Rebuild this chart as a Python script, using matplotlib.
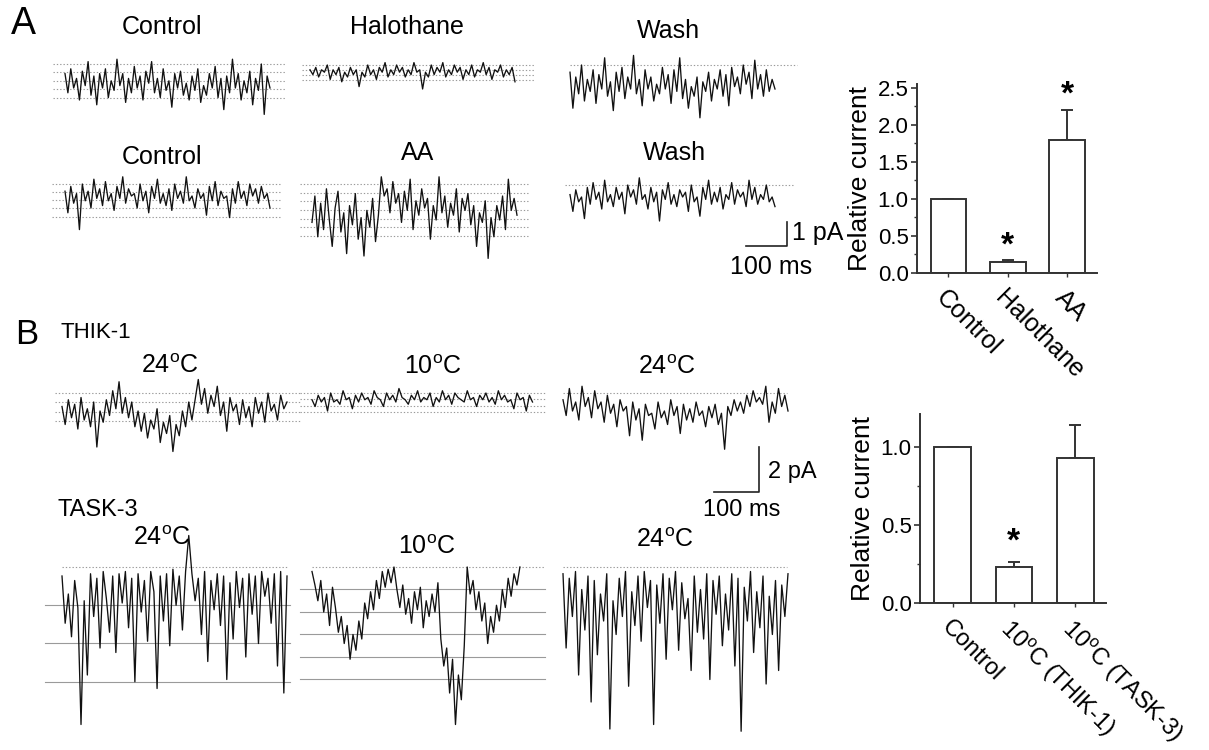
import matplotlib

matplotlib.use("Agg")
import matplotlib.pyplot as plt
import numpy as np
from matplotlib.ticker import MultipleLocator

plt.rcParams["font.family"] = ["Liberation Sans", "DejaVu Sans"]
plt.rcParams["mathtext.fontset"] = "custom"
plt.rcParams["mathtext.rm"] = "Liberation Sans"

W, H = 1209, 750
TRACE_C, LEVEL_C, EDGE = "#111111", "#9a9a9a", "#333333"
DEG = r"$^{\mathrm{o}}$"

# ---- bar data (relative current, mean and upper SEM) ----
a_labels = ["Control", "Halothane", "AA"]
a_vals = [1.0, 0.15, 1.80]
a_err = [0.0, 0.02, 0.40]
a_sig = [False, True, True]

b_labels = ["Control", f"10{DEG}C (THIK-1)", f"10{DEG}C (TASK-3)"]
b_vals = [1.0, 0.23, 0.93]
b_err = [0.0, 0.03, 0.21]
b_sig = [False, True, False]

# ---- single-channel traces, pA relative to closed level (coarse readout) ----
a_ctrl1 = [-0.4, -1.2, -0.2, -1.0, -0.6, -1.5, -0.3, -0.9, 0.1, -1.3, -0.5, -1.7, -0.4, -1.0, -0.2, -1.4,
           -0.7, -1.1, 0.2, -0.9, -0.4, -1.6, -0.6, -1.2, -0.1, -1.0, -0.5, -1.5, -0.3, -0.8, 0.1, -1.2,
           -0.6, -1.4, -0.2, -1.1, -0.7, -1.8, -0.4, -1.0, -0.3, -1.3, -0.8, -1.5, -0.5, -1.1, -0.2, -1.6,
           -0.9, -1.3, -0.4, -1.0, -0.1, -1.4, -0.6, -1.9, -0.5, -1.2, 0.2, -1.0, -0.4, -1.5, -0.7, -1.2,
           -0.3, -1.7, -0.6, -1.1, 0.0, -2.1, -0.5, -1.0]
a_halo = [-0.2, -0.4, -0.1, -0.5, -0.2, -0.3, 0.0, -0.6, -0.2, -0.4, -0.1, -0.7, -0.3, -0.5, -0.1, -0.4,
          -0.2, -0.9, -0.3, -0.5, 0.0, -0.4, -0.2, -0.6, -0.1, -0.3, 0.1, -0.5, -0.2, -0.4, 0.0, -0.3,
          -0.1, -0.5, -0.2, -0.4, 0.1, -0.3, -0.2, -1.0, -0.3, -0.5, 0.0, -0.4, -0.1, -0.3, 0.1, -0.5,
          -0.2, -0.4, 0.0, -0.3, -0.1, -0.6, -0.2, -0.4, 0.0, -0.5, -0.2, -0.3, 0.1, -0.4, -0.1, -0.6,
          -0.2, -0.3, 0.0, -0.5, -0.2, -0.4, -0.1, -0.7]
a_wash1 = [-0.3, -1.8, -0.5, -1.2, 0.0, -1.5, -0.6, -1.1, -0.2, -1.6, -0.4, -1.0, 0.3, -1.3, -0.7, -1.9,
           -0.3, -1.1, -0.1, -1.4, -0.5, -1.0, 0.4, -1.2, -0.6, -1.7, -0.2, -1.0, -0.5, -1.5, -0.8, -1.2,
           -0.1, -1.0, -0.4, -1.6, -0.2, -1.1, 0.3, -1.4, -0.6, -1.8, -0.9, -1.3, -0.5, -2.2, -0.7, -1.1,
           -0.3, -1.5, -0.6, -1.0, -0.2, -1.3, -0.4, -1.7, -0.1, -0.9, -0.5, -1.2, 0.0, -0.8, -0.3, -1.4,
           0.2, -1.0, -0.4, -1.3, -0.2, -1.1, -0.6, -1.0]
a_ctrl2 = [-0.3, -1.2, -0.1, -0.8, -0.4, -1.9, 0.0, -0.7, -0.3, -1.0, 0.2, -0.6, -0.2, -0.9, 0.1, -0.7,
           -0.4, -1.1, -0.1, -0.6, 0.3, -0.8, -0.2, -0.5, -0.4, -1.0, 0.0, -0.7, -0.3, -1.2, -0.1, -0.6,
           0.2, -0.8, -0.4, -0.9, -0.2, -1.1, 0.0, -0.6, -0.3, -0.8, 0.3, -0.7, -0.5, -1.0, -0.2, -0.6,
           -0.4, -1.3, -0.1, -0.7, 0.1, -0.9, -0.3, -0.6, -0.5, -1.4, -0.2, -0.8, 0.1, -0.6, -0.3, -0.9,
           0.0, -0.5, -0.2, -0.8, -0.1, -0.6, -0.4, -1.0]
a_aa = [-1.6, -0.5, -2.2, -0.8, -1.9, -0.2, -1.5, -2.6, -1.0, -0.3, -2.0, -1.2, -2.9, -0.9, -1.7, -0.4,
        -2.3, -1.4, -3.0, -1.1, -1.8, -0.6, -2.4, -1.3, 0.3, -0.5, -0.2, -1.2, 0.1, -0.8, -0.4, -1.6,
        -0.3, -1.1, 0.2, -1.9, -0.7, -1.3, -0.2, -1.0, -0.6, -2.3, -0.9, -1.5, 0.3, -1.2, -0.5, -1.8,
        -0.8, -1.3, -0.2, -2.0, -0.6, -1.1, -0.4, -1.7, -0.9, -2.6, -1.2, -1.6, -0.7, -3.1, -1.4, -2.2,
        -0.9, -1.5, -0.5, -1.9, 0.2, -1.1, -0.6, -1.3]
a_wash2 = [-0.4, -1.1, -0.2, -0.7, -0.5, -1.4, -0.1, -0.8, 0.1, -0.6, -0.3, -1.0, 0.2, -0.7, -0.4, -0.9,
           -0.1, -0.6, -0.3, -1.2, 0.0, -0.5, -0.2, -0.8, 0.3, -0.6, -0.4, -1.0, -0.1, -0.7, -0.3, -1.5,
           -0.2, -0.6, 0.1, -0.8, -0.4, -0.9, -0.2, -0.5, -0.3, -1.1, 0.0, -0.7, -0.5, -1.3, -0.1, -0.6,
           0.2, -0.8, -0.3, -0.7, -0.1, -1.0, -0.4, -0.6, 0.1, -0.8, -0.2, -0.5, -0.3, -0.9, 0.2, -0.6,
           -0.1, -0.8, -0.4, -0.6, 0.0, -0.7, -0.5, -0.9]

thik_24a = [-0.6, -1.4, -0.3, -1.1, -0.5, -1.6, -0.2, -1.2, -0.7, -1.5, -0.4, -2.4,
            -0.8, -1.3, -0.3, -1.0, 0.1, -0.7, 0.5, -0.9, -0.2,
            -1.1, -0.4, -1.5, -0.8,
            -1.7, -0.9, -2.0, -1.2, -1.6, -0.7, -2.2, -1.3, -1.8, -1.0, -2.6, -1.4, -1.9, -0.8, -1.5, -0.4,
            -1.2, -0.3,
            0.6, -0.5, 0.2, -0.9, -0.1, -0.6, 0.3, -1.0, -0.4, -1.7, -0.2, -0.8, -0.5, -1.4, -0.3, -1.1,
            -0.6, -1.5, -0.2, -0.9, -0.4, -1.3, 0.0, -0.8, -0.5, -1.2, -0.1, -0.7, -0.4]
thik_10 = [-0.3, -0.6, -0.1, -0.4, -0.2, -0.8, 0.0, -0.4, -0.3, -0.5, 0.1, -0.3, -0.2, -0.7, -0.1, -0.4,
           0.0, -0.3, -0.2, -0.5, 0.1, -0.2, -0.3, -0.6, 0.0, -0.3, -0.1, -0.4, 0.2, -0.2, -0.3, -0.5,
           -0.1, -0.3, 0.1, -0.4, -0.2, -0.3, 0.0, -0.6, -0.2, -0.4, 0.1, -0.3, -0.1, -0.5, 0.0, -0.2,
           -0.3, -0.4, 0.1, -0.3, -0.2, -0.6, -0.1, -0.3, 0.0, -0.4, -0.2, -0.5, 0.1, -0.3, -0.1, -0.4,
           -0.3, -0.7, 0.0, -0.3, -0.2, -0.8, -0.1, -0.4]
thik_24b = [-0.3, -1.0, 0.2, -0.8, -0.4, -1.2, 0.3, -0.6, -0.2, -1.1, 0.1, -0.7, -0.4, -1.3, -0.1, -0.9,
            -0.5, -1.5, -0.3, -0.8, -0.6, -1.9, -0.4, -1.2, -0.7, -2.1, -0.5, -1.0, -0.9, -1.6, -0.4, -1.1,
            -0.8, -1.4, -0.3, -1.0, -0.6, -1.8, -0.5, -1.2, -0.7, -1.3, -0.4, -1.0, -0.8, -1.5, -0.6, -1.1,
            -0.5, -1.4, -0.9, -2.5, -0.6, -1.0, -0.3, -0.8, -0.4, -0.9, -0.1, -0.6, 0.1, -0.4, -0.2, -0.5,
            0.3, -1.3, -0.4, -0.9, 0.2, -0.6, -0.1, -0.8]
task_24a = [-0.4, -2.5, -1.2, -3.1, -0.6, -1.8, -7.0, -1.5, -4.8, -0.3, -2.2, -0.5, -3.6, -0.2, -1.4, -2.9,
            -0.4, -3.8, -0.3, -1.6, -0.2, -2.7, -0.5, -5.1, -0.3, -2.0, -0.6, -3.3, -0.2, -1.1, -5.4, -0.4,
            -2.4, -0.3, -3.5, -0.1, -1.7, -0.4, -2.8, -0.2, 1.4, -0.3, -1.5, -0.5, -3.0, -0.2, -4.2, -0.6,
            -1.9, -0.3, -2.6, -0.4, -5.0, -0.7, -3.2, -0.2, -1.8, -0.5, -4.0, -0.3, -2.1, -0.4, -3.4, -0.2,
            -1.3, -0.5, -2.5, -0.3, -4.4, -0.2, -5.6, -0.4]
task_10 = [-0.2, -0.8, -1.5, -0.6, -2.0, -1.2, -2.6, -0.9, -1.8, -2.9,
           -2.2, -3.4, -2.6, -4.1, -3.0, -3.7, -2.4, -3.2, -1.6,
           -2.3, -1.1, -1.9, -0.6, -1.4, -0.2, -0.9, -0.1, -0.7, 0.0,
           -1.0, -1.8, -0.8, -2.1, -1.4, -2.5, -1.1, -1.9, -0.9, -2.7, -1.5, -2.2, -1.2, -2.0, -0.7,
           -3.2, -4.4, -3.6, -5.6, -4.1, -7.0, -4.8, -5.9, -3.5,
           0.0, -1.2, -0.6, -1.9, -1.1, -2.4, -1.6, -3.4, -2.2, -2.9, -1.7,
           -2.4, -1.0, -1.8, -0.5, -1.3, -0.3, -0.8, 0.0]
task_24b = [-0.3, -3.6, -0.5, -2.2, -0.2, -4.8, -1.0, -2.8, -0.4, -6.0, -0.6, -3.9, -1.2, -2.4, -0.3, -7.2,
            -1.5, -3.0, -0.5, -2.2, -0.2, -5.3, -1.1, -2.6, -0.4, -3.3, -0.2, -1.8, -0.6, -7.0, -0.8, -2.5,
            -0.3, -4.1, -0.5, -1.9, -0.2, -3.7, -0.7, -2.3, -1.4, -4.6, -0.4, -2.9, -1.0, -3.2, -0.3, -5.0,
            -0.6, -2.1, -0.4, -3.5, -1.2, -2.8, -0.3, -4.4, -0.5, -7.3, -0.9, -2.4, -0.2, -3.8, -1.1, -2.7,
            -0.4, -5.2, -1.3, -3.0, -0.6, -4.6, -0.8, -2.2, -0.3]

# unitary level spacing (pA) and number of levels marked
levels = {"a_ctrl1": (0.35, 5), "a_halo": (0.21, 4), "a_wash1": (0.0, 1), "a_ctrl2": (0.34, 5),
          "a_aa": (0.36, 7), "a_wash2": (0.0, 1), "thik_24a": (0.42, 4), "thik_10": (0.28, 4),
          "thik_24b": (0.0, 1), "task_24a": (1.7, 4), "task_10": (1.0, 6), "task_24b": (0.0, 1)}


def fx(x):
    return x / W


def fy(y):
    return 1 - y / H


def trace(name, vals, left, base, ppa, pms, dur=500, ext=(0, 500), ext_lo=None, solid_lower=False):
    lo_ms, hi_ms, lo_pa, hi_pa = -45, 565, -8.5, 2.0
    ax = fig.add_axes([fx(left + lo_ms * pms), fy(base - lo_pa * ppa),
                       (hi_ms - lo_ms) * pms / W, (hi_pa - lo_pa) * ppa / H])
    ax.set_xlim(lo_ms, hi_ms); ax.set_ylim(lo_pa, hi_pa); ax.axis("off")
    unit, n = levels[name]
    for k in range(n):
        e = ext if (k == 0 or ext_lo is None) else ext_lo
        ls = "-" if (solid_lower and k > 0) else (0, (1.2, 1.8))
        ax.plot(e, [-k * unit] * 2, color=LEVEL_C, lw=0.8, ls=ls, zorder=1)
    ax.plot(np.linspace(0, dur, len(vals)), vals, color=TRACE_C, lw=0.95, zorder=2)
    return ax


def scalebar(x_right, y_bottom, ppa, pms, pa, ms, pa_txt, ms_txt, ms_xy, pa_xy, fs):
    ax = fig.add_axes([fx(x_right - ms * pms), fy(y_bottom), ms * pms / W, pa * ppa / H])
    ax.set_xlim(0, ms); ax.set_ylim(0, pa); ax.axis("off")
    ax.plot([0, ms, ms], [0, 0, pa], color="#222222", lw=1.2, clip_on=False)
    fig.text(fx(pa_xy[0]), fy(pa_xy[1]), pa_txt, fontsize=fs, ha="left", va="center")
    fig.text(fx(ms_xy[0]), fy(ms_xy[1]), ms_txt, fontsize=fs, ha="center", va="center")


def bars(ax, labels, vals, err, sig, ylim, major, minor, star_dy, lab_fs):
    xs = np.arange(len(vals))
    ax.bar(xs, vals, width=0.6, color="white", edgecolor=EDGE, linewidth=1.4, zorder=2)
    ax.errorbar(xs, vals, yerr=[np.zeros(len(vals)), err], fmt="none", ecolor=EDGE,
                elinewidth=1.4, capsize=4, capthick=1.4, zorder=1)
    for x, v, e, s in zip(xs, vals, err, sig):
        if s:
            ax.text(x, v + e + star_dy, "*", ha="center", va="center", fontsize=24, fontweight="bold")
    ax.set_xlim(-0.53, len(vals) - 0.5)
    ax.set_ylim(*ylim)
    ax.yaxis.set_major_locator(MultipleLocator(major))
    ax.yaxis.set_minor_locator(MultipleLocator(minor))
    ax.set_xticks(xs)
    ax.set_xticklabels(labels, rotation=-45, ha="left", va="top", rotation_mode="anchor", fontsize=lab_fs)
    ax.tick_params(axis="x", length=3, width=1, color=EDGE, pad=6)
    ax.tick_params(axis="y", which="major", length=4, width=1.2, color=EDGE, labelsize=16, pad=2)
    ax.tick_params(axis="y", which="minor", length=2, width=1, color=EDGE)
    for s in ("top", "right"):
        ax.spines[s].set_visible(False)
    for s in ("left", "bottom"):
        ax.spines[s].set_linewidth(1.4); ax.spines[s].set_color(EDGE)
    ax.set_ylabel("Relative current", fontsize=19, labelpad=4)


fig = plt.figure(figsize=(W / 100, H / 100), dpi=100)

# ---- panel A traces (24 px/pA, 0.41 px/ms) ----
pa_a, ms_a = 24, 0.41
trace("a_ctrl1", a_ctrl1, 65, 64, pa_a, ms_a, ext=(-29, 537))
trace("a_halo", a_halo, 310, 65, pa_a, ms_a, ext=(-20, 546))
trace("a_wash1", a_wash1, 570, 65, pa_a, ms_a, ext=(0, 553))
trace("a_ctrl2", a_ctrl2, 65, 184, pa_a, ms_a, ext=(-32, 529))
trace("a_aa", a_aa, 312, 184, pa_a, ms_a, ext=(-29, 532))
trace("a_wash2", a_wash2, 570, 185, pa_a, ms_a, ext=(-12, 549))
scalebar(787, 246, pa_a, ms_a, 1, 100, "1 pA", "100 ms", (771, 267), (792, 233), 18)

# ---- panel B traces (22.5 px/pA, 0.45 px/ms) ----
pa_b, ms_b = 22.5, 0.45
trace("thik_24a", thik_24a, 62, 393, pa_b, ms_b, ext=(-16, 529))
trace("thik_10", thik_10, 312, 393, pa_b, ms_b, dur=490, ext=(-27, 518))
trace("thik_24b", thik_24b, 563, 393, pa_b, ms_b, ext=(0, 498))
trace("task_24a", task_24a, 62, 567, pa_b, ms_b, ext=(0, 500), ext_lo=(-38, 507), solid_lower=True)
trace("task_10", task_10, 312, 567, pa_b, ms_b, dur=462, ext=(0, 518), ext_lo=(-27, 518), solid_lower=True)
trace("task_24b", task_24b, 563, 567, pa_b, ms_b, ext=(0, 498))
scalebar(759, 492, pa_b, ms_b, 2, 100, "2 pA", "100 ms", (742, 510), (768, 472), 17)

# ---- text labels ----
fig.text(fx(23), fy(24), "A", fontsize=27, ha="center", va="center")
fig.text(fx(27), fy(334), "B", fontsize=25, ha="center", va="center")
for s, x, y in [("Control", 162, 27), ("Halothane", 407, 27), ("Wash", 668, 31),
                ("Control", 162, 157), ("AA", 418, 153), ("Wash", 674, 153)]:
    fig.text(fx(x), fy(y), s, fontsize=18, ha="center", va="center")
fig.text(fx(60), fy(332), "THIK-1", fontsize=16, ha="left", va="center")
fig.text(fx(58), fy(510), "TASK-3", fontsize=17, ha="left", va="center")
for x, y, t in [(170, 366, 24), (433, 367, 10), (667, 367, 24),
                (162, 538, 24), (427, 547, 10), (665, 540, 24)]:
    fig.text(fx(x), fy(y), f"{t}{DEG}C", fontsize=18, ha="center", va="center")

# ---- bar charts ----
ax_a = fig.add_axes([fx(917), fy(273), (1097 - 917) / W, (273 - 84) / H])
bars(ax_a, a_labels, a_vals, a_err, a_sig, (0, 2.55), 0.5, 0.25, 0.2, 18)
ax_b = fig.add_axes([fx(920), fy(603), (1106 - 920) / W, (603 - 414) / H])
bars(ax_b, b_labels, b_vals, b_err, b_sig, (0, 1.21), 0.5, 0.25, 0.13, 17)

fig.savefig("out.png", dpi=100, facecolor="white")
